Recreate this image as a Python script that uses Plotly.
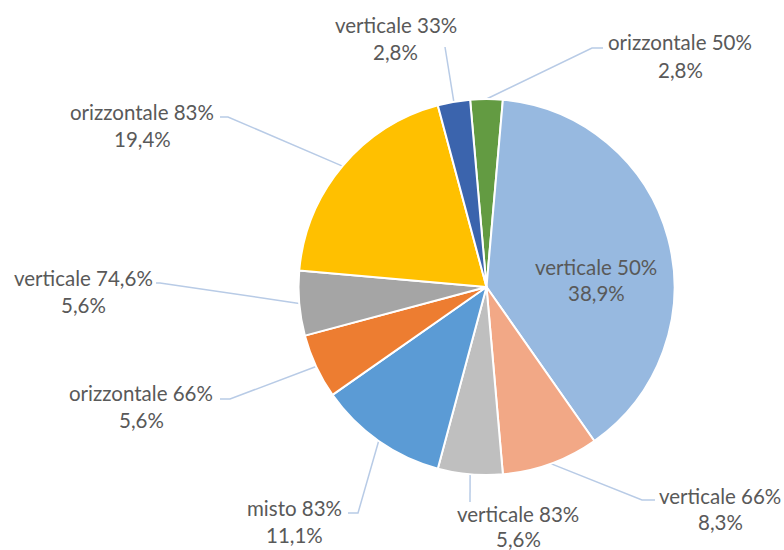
import math
import plotly.graph_objects as go

# ---- data (clockwise from the top) ----
labels = ["orizzontale 50%", "verticale 50%", "verticale 66%", "verticale 83%",
          "misto 83%", "orizzontale 66%", "verticale 74,6%", "orizzontale 83%",
          "verticale 33%"]
counts = [1, 14, 3, 2, 4, 2, 2, 7, 1]
colors = ["#639B42", "#97B9E0", "#F2A886", "#BFBFBF", "#5B9BD5",
          "#ED7D31", "#A5A5A5", "#FFC000", "#3B64AD"]

# ---- layout (pixels) ----
W, H = 784, 550
CX, CY, R = 486.5, 287.0, 188.0
ROT = -5
# label text centre x, first line y, second line y
label_pos = [(680, 42, 70), (596, 267, 293), (720, 496, 522), (518, 514, 539),
             (294, 508, 535), (141, 393, 420), (83, 278, 305), (142, 112, 139),
             (396, 25, 52)]
# leader elbow and end points (None = no leader)
leaders = [((592, 48), (603, 48)), None, ((642, 500), (655, 500)),
           ((470, 502), (470, 502)), ((358, 513), (348, 513)),
           ((230, 399), (220, 399)), ((160, 283), (156, 283)),
           ((228, 117), (220, 117)), ((445, 47), (445, 47))]
TEXT_COLOR = "#595959"
FONT = "Lato"
FSIZE = 20.5


def px(x):
    return x / W


def py(y):
    return 1 - y / H


fig = go.Figure(go.Pie(
    labels=labels, values=counts, sort=False, direction="clockwise",
    rotation=ROT, textinfo="none", hoverinfo="label+percent",
    marker=dict(colors=colors, line=dict(color="white", width=2)),
    domain=dict(x=[px(CX - R), px(CX + R)], y=[py(CY + R), py(CY - R)]),
    showlegend=False,
))

total = sum(counts)
shapes = []
annotations = []
cum = 0
for i, (lab, v) in enumerate(zip(labels, counts)):
    mid = math.radians(ROT + (cum + v / 2) / total * 360)
    cum += v
    pct = f"{v / total * 100:.1f}".replace(".", ",") + "%"
    tx, y1, y2 = label_pos[i]
    for txt, yy in ((lab, y1), (pct, y2)):
        annotations.append(dict(
            x=px(tx), y=py(yy), xref="paper", yref="paper", text=txt,
            showarrow=False, xanchor="center", yanchor="middle",
            font=dict(family=FONT, size=FSIZE, color=TEXT_COLOR)))
    if leaders[i] is not None:
        sx = CX + R * math.sin(mid)
        sy = CY - R * math.cos(mid)
        (ex, ey), (fx, fy) = leaders[i]
        path = f"M {px(sx)},{py(sy)} L {px(ex)},{py(ey)} L {px(fx)},{py(fy)}"
        shapes.append(dict(type="path", path=path, xref="paper", yref="paper",
                           line=dict(color="#B8CBE6", width=1.5), layer="below"))

fig.update_layout(
    width=W, height=H, margin=dict(l=0, r=0, t=0, b=0),
    paper_bgcolor="white", plot_bgcolor="white",
    shapes=shapes, annotations=annotations,
)
fig.write_html("out.html", config={"displayModeBar": False},
               post_script="document.body.style.margin='0';"
                           "document.body.style.overflow='hidden';")
